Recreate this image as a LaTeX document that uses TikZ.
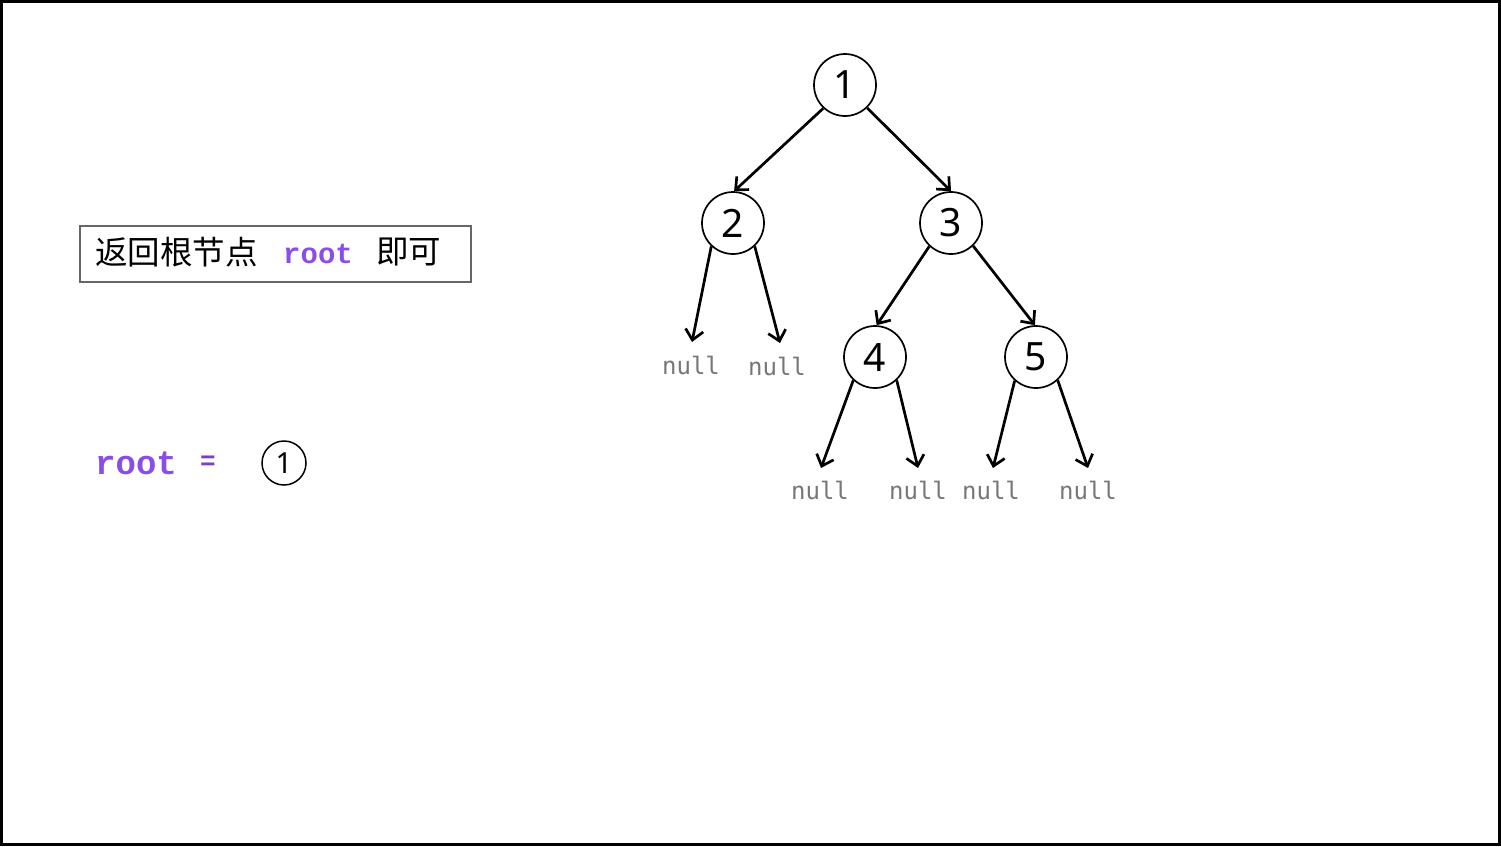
\documentclass[tikz,border=0pt]{standalone}
\usepackage{fontspec}
\setmainfont{Noto Sans}
\newfontfamily\cjkfam{Noto Sans CJK SC}
\newfontfamily\nullmono{DejaVu Sans Mono}
\newfontfamily\codemono{Liberation Mono}
\newfontfamily\digitfam{Noto Sans}
\usetikzlibrary{arrows.meta}
\definecolor{codepurple}{HTML}{8A4EE8}
\definecolor{eqpurple}{HTML}{7B3FC4}
\definecolor{nullgray}{HTML}{777777}
\definecolor{boxgray}{HTML}{666666}
\tikzset{
  treenode/.style={circle,draw=black,line width=1.7pt,minimum size=62pt,inner sep=0pt,fill=white,font=\digitfam\fontsize{39}{39}\selectfont},
  smallnode/.style={circle,draw=black,line width=1.5pt,minimum size=44pt,inner sep=0pt,font=\digitfam\fontsize{29}{29}\selectfont},
  nulltext/.style={text=nullgray,font=\nullmono\fontsize{24}{24}\selectfont,inner sep=0pt},
  edge/.style={line width=2.7pt,-{Straight Barb[length=10pt,width=18pt,line width=2.7pt]}},
  code/.style={text=codepurple,font=\codemono\bfseries\fontsize{29}{29}\selectfont}
}
\begin{document}
\begin{tikzpicture}[x=1pt,y=-1pt]
\useasboundingbox (0,0) rectangle (1501,846);
\draw[line width=3pt] (1.5,1.5) rectangle (1499.5,844.5);

% tree nodes
\node[treenode] (n1) at (845,85) {1};
\node[treenode] (n2) at (733,223) {2};
\node[treenode] (n3) at (951,223) {3};
\node[treenode] (n4) at (875,357) {4};
\node[treenode] (n5) at (1036,357) {5};

% null targets
\coordinate (a1) at (692,342);
\coordinate (a2) at (780,343);
\coordinate (a3) at (821,468);
\coordinate (a4) at (918,468);
\coordinate (a5) at (993,468);
\coordinate (a6) at (1088,468);

\node[nulltext] (z1) at (691,365) {null};
\node[nulltext] (z2) at (777,366) {null};
\node[nulltext] (z3) at (820,490) {null};
\node[nulltext] (z4) at (918,490) {null};
\node[nulltext] (z5) at (991,490) {null};
\node[nulltext] (z6) at (1088,490) {null};

\draw[edge] (n1.227) -- (n2.88);
\draw[edge] (n1.314) -- (n3.90);
\draw[edge] (n3.227) -- (n4.87);
\draw[edge] (n3.314) -- (n5.92);
\draw[edge] (n2.227) -- (a1);
\draw[edge] (n2.313) -- (a2);
\draw[edge] (n4.227) -- (a3);
\draw[edge] (n4.313) -- (a4);
\draw[edge] (n5.228) -- (a5);
\draw[edge] (n5.313) -- (a6);

% text box
\node[draw=boxgray,line width=1.3pt,minimum width=391pt,minimum height=56pt,inner sep=0pt] (box) at (275.5,254) {};
\node[anchor=west,inner sep=0pt,font=\cjkfam\fontsize{32.5}{32.5}\selectfont] (t1) at (95,252) {返回根节点};
\node[code,anchor=west,inner sep=0pt] (t2) at (283,254) {root};
\node[anchor=west,inner sep=0pt,font=\cjkfam\fontsize{32.5}{32.5}\selectfont] (t3) at (376,252) {即可};

% root = 1
\node[text=codepurple,font=\codemono\bfseries\fontsize{34}{34}\selectfont,anchor=west,inner sep=0pt] (r) at (95,463) {root};
\node[text=eqpurple,font=\codemono\bfseries\fontsize{26}{26}\selectfont,inner sep=0pt] (eq) at (208,463) {=};
\node[smallnode] (s1) at (284,463) {1};
\end{tikzpicture}
\end{document}
